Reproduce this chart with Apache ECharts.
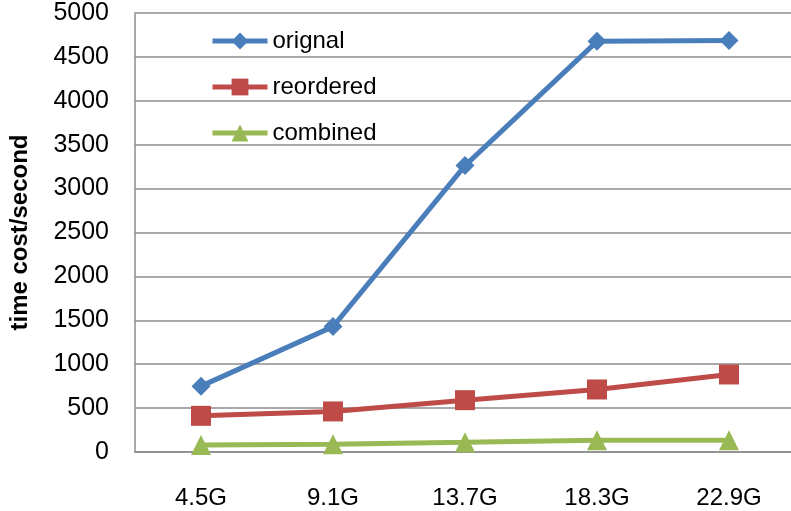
<!DOCTYPE html>
<html>
<head>
<meta charset="utf-8">
<script src="https://cdn.jsdelivr.net/npm/echarts@6/dist/echarts.min.js"></script>
<style>
  html, body { margin: 0; padding: 0; background: #ffffff; }
  #chart { width: 791px; height: 511px; }
</style>
</head>
<body>
<div id="chart"></div>
<script>
// Dataset sizes on the x axis
const categories = ['4.5G', '9.1G', '13.7G', '18.3G', '22.9G'];

// Time cost in seconds for each strategy
const orignal = [750, 1428, 3262, 4677, 4688];
const reordered = [412, 462, 590, 712, 883];
const combined = [80, 88, 110, 135, 135];

const FONT = '"Liberation Sans", Arial, sans-serif';
const GRID_COLOR = '#8c8c8c';
const LINE_WIDTH = 5;

const chart = echarts.init(document.getElementById('chart'), null, { renderer: 'canvas' });

function lineSeries(name, data, color, symbol, size) {
  return {
    name: name,
    type: 'line',
    data: data,
    symbol: symbol,
    symbolSize: size,
    showAllSymbol: true,
    lineStyle: { color: color, width: LINE_WIDTH },
    itemStyle: { color: color },
    emphasis: { disabled: true },
    animation: false,
    z: 3
  };
}

chart.setOption({
  backgroundColor: '#ffffff',
  animation: false,
  grid: {
    left: 135, top: 13, width: 660, height: 439,
    containLabel: false,
    outerBoundsMode: 'none'
  },
  legend: {
    orient: 'vertical',
    left: 205,
    top: 23,
    itemWidth: 55,
    itemHeight: 21,
    itemGap: 20,
    lineStyle: { width: LINE_WIDTH },
    textStyle: { fontFamily: FONT, fontSize: 24, color: '#000', lineHeight: 26 },
    data: ['orignal', 'reordered', 'combined']
  },
  xAxis: {
    type: 'category',
    data: categories,
    boundaryGap: true,
    axisLine: { show: true, lineStyle: { color: GRID_COLOR, width: 1.5 } },
    axisTick: { show: false },
    axisLabel: { fontFamily: FONT, fontSize: 24, color: '#000', margin: 34 },
    splitLine: { show: false }
  },
  yAxis: {
    type: 'value',
    min: 0,
    max: 5000,
    interval: 500,
    name: 'time cost/second',
    nameLocation: 'middle',
    nameRotate: 90,
    nameGap: 103,
    nameTextStyle: { fontFamily: FONT, fontSize: 24, fontWeight: 'bold', color: '#000' },
    axisLine: { show: true, lineStyle: { color: GRID_COLOR, width: 1.5 } },
    axisTick: { show: false },
    axisLabel: {
      fontFamily: FONT, fontSize: 25, color: '#000', margin: 26,
      formatter: function (v) { return String(v); }
    },
    splitLine: { show: true, lineStyle: { color: GRID_COLOR, width: 1.5 } }
  },
  series: [
    lineSeries('orignal', orignal, '#4a7ebb', 'diamond', 19),
    lineSeries('reordered', reordered, '#be4b48', 'rect', 20),
    lineSeries('combined', combined, '#98b954', 'triangle', 20)
  ]
});
</script>
</body>
</html>
